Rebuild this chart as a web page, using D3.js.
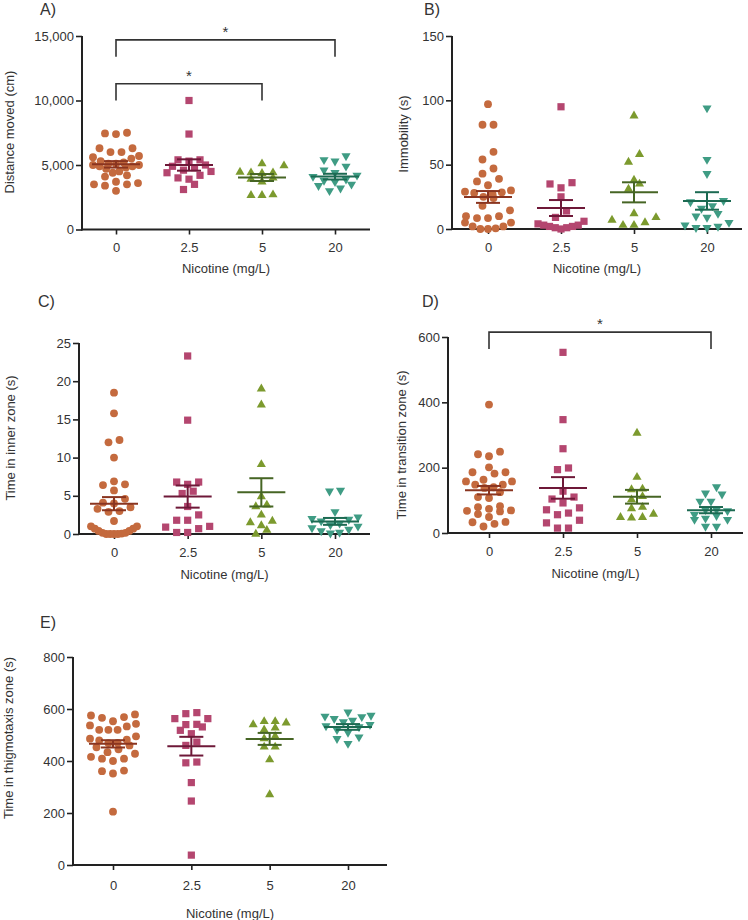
<!DOCTYPE html>
<html><head><meta charset="utf-8">
<script src="https://cdn.jsdelivr.net/npm/d3@7"></script>
<style>
body{margin:0;background:#fff}
text{font-family:"Liberation Sans",Arial,Helvetica,sans-serif}
</style>
</head><body>
<svg id="chart" width="748" height="920"></svg>
<script>
// ---------- data ----------
const categories = ["0", "2.5", "5", "20"];
const xTitle = "Nicotine (mg/L)";

const distanceMoved = [
  [7500, 7450, 7400, 6300, 6300, 6000, 6000, 5700, 5600, 5500, 5300, 5200, 5100, 5100, 5000, 5000, 4900, 4900, 4800, 4700, 4500, 4400, 4200, 4100, 3700, 3600, 3500, 3500, 3400, 3000],
  [10000, 7400, 5400, 5400, 5300, 5000, 4900, 4800, 4600, 4500, 4400, 4200, 4000, 3900, 3500, 3100],
  [5100, 4950, 4450, 4400, 4400, 4350, 4000, 3900, 3700, 2700, 2650, 2650],
  [5700, 5400, 5300, 4900, 4600, 4400, 4200, 4100, 3900, 3800, 3700, 3500, 3400, 3200, 3000]
];
const distanceMovedMean = [5050, 5000, 4030, 4100];
const distanceMovedSem = [250, 440, 270, 220];

const immobility = [
  [97, 81, 81, 60, 54, 47, 43, 39, 37, 34, 30, 29, 28.5, 28, 27, 25, 24, 18, 14.5, 10, 10, 8.5, 8.5, 5, 5, 2, 2, 0.5, 0, 0],
  [95, 36, 35, 32, 25, 14, 9, 6, 4, 3, 3, 2, 2, 1, 1, 0],
  [88, 58, 52, 38, 35, 31, 12, 9, 7, 5, 3, 3],
  [94, 54, 43, 22, 21, 18, 16, 12, 10, 9, 5, 3, 2, 1, 1]
];
const immobilityMean = [24.9, 16.3, 28.5, 21.8];
const immobilitySem = [4.6, 6.2, 7.8, 6.8];

const innerZone = [
  [18.5, 15.8, 12.3, 12.0, 10.0, 6.9, 6.5, 6.4, 5.7, 4.6, 4.1, 4.0, 3.5, 3.3, 3.0, 2.9, 1.7, 1.0, 1.0, 0.7, 0.7, 0.4, 0.4, 0.15, 0.15, 0.05, 0, 0, 0, 0],
  [23.3, 14.9, 6.8, 6.8, 6.5, 5.6, 5.3, 3.6, 2.5, 1.8, 1.8, 1.0, 0.9, 0.7, 0.2, 0.2],
  [19.0, 16.9, 9.1, 4.9, 3.8, 3.6, 2.5, 1.7, 1.5, 1.1, 0.5, 0],
  [5.7, 5.6, 2.9, 2.2, 2.0, 1.9, 1.7, 1.4, 1.2, 1.0, 0.8, 0.6, 0.4, 0.2, 0.1]
];
const innerZoneMean = [3.97, 4.9, 5.45, 1.65];
const innerZoneSem = [0.86, 1.45, 1.85, 0.45];

const transitionZone = [
  [393, 249, 241, 235, 201, 186, 186, 182, 163, 158, 158, 148, 148, 140, 138, 125, 110, 107, 82, 79, 74, 69, 68, 66, 58, 49, 34, 33, 28, 20],
  [553, 347, 258, 199, 194, 128, 110, 104, 92, 77, 71, 61, 56, 39, 31, 15, 15],
  [306, 171, 135, 133, 112, 102, 79, 75, 58, 48, 48, 46],
  [141, 122, 119, 97, 97, 71, 71, 68, 56, 53, 45, 41, 41, 20, 20]
];
const transitionZoneMean = [131, 138, 111, 70];
const transitionZoneSem = [13, 33, 21, 9.5];

const thigmotaxisZone = [
  [579, 575, 569, 566, 553, 543, 537, 533, 520, 520, 520, 495, 486, 482, 479, 470, 469, 460, 453, 445, 434, 428, 416, 409, 409, 400, 363, 361, 352, 205],
  [586, 582, 563, 563, 541, 540, 531, 518, 505, 473, 460, 396, 393, 317, 246, 38],
  [552, 552, 547, 540, 527, 520, 495, 486, 454, 454, 405, 271],
  [588, 575, 572, 570, 563, 556, 550, 540, 535, 531, 520, 510, 492, 486, 467]
];
const thigmotaxisZoneMean = [466, 457, 485, 531];
const thigmotaxisZoneSem = [14, 36, 23, 11];

const distanceMovedSig = [
  {from: "0", to: "20", top: 14700, bottom: 13400, label: "*"},
  {from: "0", to: "5", top: 11300, bottom: 10000, label: "*"}
];
const transitionZoneSig = [
  {from: "0", to: "20", top: 615, bottom: 563, label: "*"}
];

// ---------- styles ----------
const pointColors = ["#C46A3E", "#B4466F", "#7C9A2E", "#3F9C84"];
const meanColors = ["#8A3520", "#6E1838", "#466524", "#1C6A52"];
const shapes = ["circle", "square", "triangle", "triangleDown"];

const panels = [
  {label: "A)", title: "Distance moved (cm)", values: distanceMoved, mean: distanceMovedMean, sem: distanceMovedSem,
   yMax: 15000, yStep: 5000, fmt: d3.format(","), axisX: [82, 370], catX: [116, 335], yRange: [229.5, 36],
   labelPos: [40, 15], titlePos: [9, 132], tickDy: 22.5, xTitleDy: 43.5, sig: distanceMovedSig},
  {label: "B)", title: "Immobility (s)", values: immobility, mean: immobilityMean, sem: immobilitySem,
   yMax: 150, yStep: 50, fmt: d3.format("d"), axisX: [452, 742], catX: [488, 707], yRange: [229, 36],
   labelPos: [424, 15], titlePos: [403, 134], tickDy: 22.5, xTitleDy: 43.5, sig: []},
  {label: "C)", title: "Time in inner zone (s)", values: innerZone, mean: innerZoneMean, sem: innerZoneSem,
   yMax: 25, yStep: 5, fmt: d3.format("d"), axisX: [79, 370], catX: [114, 335], yRange: [534, 343],
   labelPos: [38, 307], titlePos: [10, 438], tickDy: 23, xTitleDy: 45, sig: []},
  {label: "D)", title: "Time in transition zone (s)", values: transitionZone, mean: transitionZoneMean, sem: transitionZoneSem,
   yMax: 600, yStep: 200, fmt: d3.format("d"), axisX: [448, 743], catX: [489, 711], yRange: [533, 337],
   labelPos: [422, 307], titlePos: [401, 445], tickDy: 23, xTitleDy: 45, sig: transitionZoneSig},
  {label: "E)", title: "Time in thigmotaxis zone (s)", values: thigmotaxisZone, mean: thigmotaxisZoneMean, sem: thigmotaxisZoneSem,
   yMax: 800, yStep: 200, fmt: d3.format("d"), axisX: [73, 387], catX: [113, 348], yRange: [865, 657],
   labelPos: [40, 628], titlePos: [8, 738], tickDy: 25, xTitleDy: 53, sig: []}
];

const svg = d3.select("#chart");
svg.append("rect").attr("width", 748).attr("height", 920).attr("fill", "#fff");

const symbolGen = {
  circle: d3.symbol().type(d3.symbolCircle).size(48),
  square: d3.symbol().type(d3.symbolSquare).size(52),
  triangle: d3.symbol().type(d3.symbolTriangle).size(36),
  triangleDown: d3.symbol().type(d3.symbolTriangle).size(36)
};

// Prism-like scatter layout: group points into rows by pixel height,
// spread each row symmetrically, lowest values nearest the centre.
function rowLayout(vals, y, cx, binH, maxSp, halfW) {
  const pts = vals.map(v => ({v, y: y(v)})).sort((a, b) => d3.ascending(a.v, b.v));
  let i = 0;
  while (i < pts.length) {
    const start = pts[i].y, row = [];
    while (i < pts.length && start - pts[i].y < binH) { row.push(pts[i]); i++; }
    const n = row.length;
    const sp = n > 1 ? Math.min(maxSp, 2 * halfW / (n - 1)) : 0;
    const slots = d3.range(n).map(j => (j - (n - 1) / 2) * sp)
      .sort((a, b) => (Math.abs(a) - Math.abs(b)) || (a - b));
    row.forEach((p, j) => { p.x = cx + slots[j]; });
  }
  return pts;
}

const ink = "#222";
const textCol = "#333";

panels.forEach(P => {
  const g = svg.append("g");
  const x = d3.scalePoint().domain(categories).range(P.catX);
  const y = d3.scaleLinear().domain([0, P.yMax]).range(P.yRange);
  const x0 = P.axisX[0], x1 = P.axisX[1];

  // y axis
  const ya = g.append("g").attr("transform", `translate(${x0},0)`)
    .call(d3.axisLeft(y).tickValues(d3.range(0, P.yMax + 1e-9, P.yStep)).tickFormat(P.fmt).tickSize(6).tickPadding(2).tickSizeOuter(0));
  ya.select(".domain").remove();
  ya.selectAll(".tick line").attr("stroke", ink).attr("stroke-width", 1.6);
  ya.selectAll(".tick text").attr("fill", textCol).style("font-size", "13px");
  g.append("line").attr("x1", x0).attr("x2", x0).attr("y1", y(0) + 1).attr("y2", y(P.yMax))
    .attr("stroke", ink).attr("stroke-width", 2);

  // x axis
  const xa = g.append("g").attr("transform", `translate(0,${y(0)})`)
    .call(d3.axisBottom(x).tickSize(5).tickPadding(0).tickSizeOuter(0));
  xa.select(".domain").remove();
  xa.selectAll(".tick line").attr("stroke", ink).attr("stroke-width", 1.6);
  xa.selectAll(".tick text").attr("fill", textCol).style("font-size", "13px")
    .attr("y", P.tickDy).attr("dy", null);
  g.append("line").attr("x1", x0 - 1).attr("x2", x1).attr("y1", y(0)).attr("y2", y(0))
    .attr("stroke", ink).attr("stroke-width", 2);

  // titles
  g.append("text").attr("x", (x0 + x1) / 2).attr("y", y(0) + P.xTitleDy)
    .attr("text-anchor", "middle").attr("fill", textCol).style("font-size", "13px").text(xTitle);
  g.append("text").attr("transform", `translate(${P.titlePos[0]},${P.titlePos[1]}) rotate(-90)`)
    .attr("text-anchor", "middle").attr("dy", "0.35em").attr("fill", textCol).style("font-size", "13px").text(P.title);
  g.append("text").attr("x", P.labelPos[0]).attr("y", P.labelPos[1])
    .attr("fill", textCol).style("font-size", "16px").text(P.label);

  // points
  categories.forEach((c, i) => {
    const pts = rowLayout(P.values[i], y, x(c), 8, 11, 23);
    const gen = symbolGen[shapes[i]];
    g.append("g").selectAll("path").data(pts).join("path")
      .attr("d", gen)
      .attr("transform", d => `translate(${d.x},${d.y})` + (shapes[i] === "triangleDown" ? " rotate(180)" : ""))
      .attr("fill", pointColors[i]);
  });

  // mean and SEM
  categories.forEach((c, i) => {
    const cx = x(c), m = P.mean[i], s = P.sem[i];
    const mg = g.append("g").attr("stroke", meanColors[i]).attr("stroke-width", 2).attr("fill", "none");
    mg.append("line").attr("x1", cx - 24).attr("x2", cx + 24).attr("y1", y(m)).attr("y2", y(m));
    mg.append("line").attr("x1", cx).attr("x2", cx).attr("y1", y(m - s)).attr("y2", y(m + s));
    mg.append("line").attr("x1", cx - 12).attr("x2", cx + 12).attr("y1", y(m + s)).attr("y2", y(m + s));
    mg.append("line").attr("x1", cx - 12).attr("x2", cx + 12).attr("y1", y(m - s)).attr("y2", y(m - s));
  });

  // significance brackets
  P.sig.forEach(b => {
    const xa_ = x(b.from), xb_ = x(b.to);
    g.append("path")
      .attr("d", `M${xa_},${y(b.bottom)}V${y(b.top)}H${xb_}V${y(b.bottom)}`)
      .attr("fill", "none").attr("stroke", "#333").attr("stroke-width", 1.6);
    g.append("text").attr("x", (xa_ + xb_) / 2).attr("y", y(b.top) - 3)
      .attr("text-anchor", "middle").attr("fill", textCol).style("font-size", "15px").text(b.label);
  });
});
</script>
</body></html>
